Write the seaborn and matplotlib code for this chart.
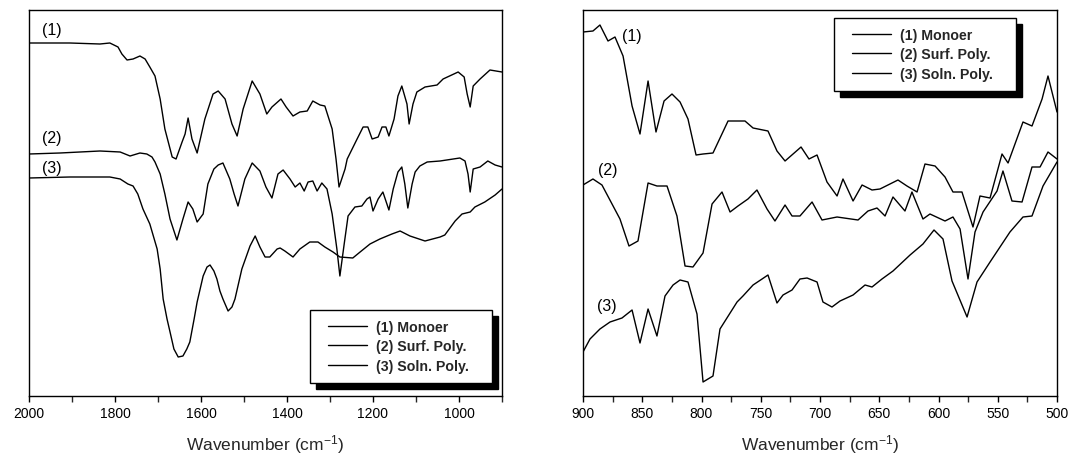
import matplotlib
matplotlib.use("Agg")
import matplotlib.pyplot as plt
from matplotlib.ticker import MultipleLocator
from matplotlib.lines import Line2D
from matplotlib.legend_handler import HandlerLine2D
import pandas as pd
import seaborn as sns

sns.set_style("ticks")
plt.rcParams["font.family"] = ["Liberation Sans", "DejaVu Sans"]
plt.rcParams["mathtext.default"] = "regular"

# ---------------- FTIR spectra, 2000-900 cm-1 (transmittance, a.u.) ----------------
wn_mono_a = [2000, 1905, 1835, 1812, 1793, 1784, 1772, 1758, 1742, 1730, 1719, 1707, 1695, 1684,
             1667, 1658, 1644, 1637, 1630, 1621, 1609, 1591, 1572, 1560, 1544, 1528, 1516, 1502,
             1481, 1463, 1447, 1435, 1414, 1402, 1386, 1370, 1353, 1340, 1323, 1312, 1295, 1286,
             1279, 1265, 1260, 1237, 1223, 1212, 1202, 1188, 1179, 1170, 1163, 1151, 1142, 1133,
             1121, 1116, 1107, 1098, 1079, 1051, 1037, 1002, 988, 981, 974, 967, 951, 928, 900]
t_mono_a = [353, 353, 352, 353, 349, 342, 336, 337, 340, 337, 329, 320, 297, 267,
            239, 237, 254, 262, 278, 257, 243, 277, 302, 305, 297, 272, 260, 287,
            315, 302, 282, 289, 297, 289, 280, 284, 285, 295, 291, 290, 267, 237,
            209, 227, 237, 257, 269, 269, 257, 259, 269, 269, 260, 277, 300, 310,
            292, 272, 292, 304, 309, 311, 317, 324, 319, 302, 289, 310, 317, 326, 324]

wn_surf_a = [2000, 1928, 1835, 1788, 1765, 1742, 1726, 1714, 1707, 1695, 1684, 1672, 1656, 1642,
             1630, 1619, 1609, 1595, 1584, 1570, 1560, 1549, 1533, 1523, 1514, 1498, 1481, 1463,
             1449, 1435, 1421, 1409, 1393, 1381, 1370, 1360, 1351, 1340, 1330, 1319, 1307, 1295,
             1284, 1277, 1267, 1258, 1242, 1226, 1214, 1207, 1200, 1188, 1177, 1163, 1153, 1142,
             1133, 1126, 1119, 1109, 1102, 1091, 1074, 1044, 998, 986, 979, 974, 967, 951, 933,
             916, 900]
t_surf_a = [242, 243, 245, 244, 240, 243, 242, 239, 234, 222, 202, 177, 156, 177,
            194, 187, 174, 182, 212, 227, 231, 233, 217, 202, 190, 217, 233, 225,
            209, 198, 222, 226, 217, 209, 213, 205, 214, 215, 205, 213, 207, 182,
            147, 120, 152, 180, 189, 190, 197, 199, 185, 197, 204, 186, 207, 224,
            229, 212, 188, 212, 224, 230, 234, 235, 238, 235, 222, 204, 227, 229, 235,
            231, 229]

wn_soln_a = [2000, 1905, 1812, 1788, 1770, 1758, 1747, 1735, 1719, 1702, 1695, 1688, 1679, 1672,
             1663, 1653, 1642, 1633, 1626, 1616, 1609, 1595, 1586, 1579, 1570, 1563, 1556, 1549,
             1537, 1528, 1521, 1505, 1486, 1474, 1463, 1451, 1440, 1423, 1416, 1405, 1386, 1370,
             1347, 1328, 1312, 1293, 1277, 1247, 1230, 1207, 1184, 1156, 1137, 1114, 1079, 1044,
             1033, 1009, 993, 974, 963, 940, 916, 900]
t_soln_a = [218, 219, 219, 217, 212, 210, 202, 187, 172, 147, 127, 97, 77, 64,
            47, 39, 40, 47, 54, 77, 94, 120, 129, 131, 125, 117, 105, 97,
            85, 89, 97, 127, 150, 160, 149, 139, 139, 147, 148, 145, 139, 147,
            154, 154, 149, 144, 139, 138, 144, 152, 157, 162, 165, 160, 155, 159,
            161, 175, 182, 184, 189, 194, 201, 207]

# ---------------- FTIR spectra, 900-500 cm-1 (transmittance, a.u.) ----------------
wn_mono_b = [900, 891.6, 885.7, 878.9, 873.0, 866.2, 858.6, 851.9, 845.1, 838.4, 831.6, 824.9,
             818.1, 811.4, 804.6, 798.7, 790.3, 777.6, 763.3, 756.5, 743.9, 736.3, 729.5, 716.0,
             709.3, 702.5, 694.1, 685.6, 680.6, 672.1, 664.5, 656.1, 649.4, 634.2, 626.6, 618.1,
             611.4, 602.9, 594.5, 587.8, 580.2, 570.9, 565.0, 556.5, 546.4, 541.3, 528.7, 521.1,
             512.6, 507.6, 500]
t_mono_b = [364, 365, 371, 355, 359, 340, 290, 262, 315, 264, 295, 302,
            294, 277, 241, 242, 243, 275, 275, 268, 265, 245, 235, 249,
            237, 241, 214, 200, 217, 195, 211, 206, 207, 216, 210, 204,
            232, 230, 219, 204, 204, 169, 200, 198, 242, 233, 274, 270,
            297, 320, 284]

wn_surf_b = [900, 891.6, 884.0, 875.5, 868.8, 861.2, 853.6, 845.1, 837.6, 829.1, 820.7, 813.9,
             807.2, 798.7, 791.1, 782.7, 775.9, 769.2, 760.8, 753.2, 744.7, 738.0, 729.5, 723.6,
             716.9, 706.7, 698.3, 685.6, 667.9, 659.5, 651.9, 645.1, 638.4, 628.3, 622.4, 613.1,
             607.2, 594.5, 587.8, 581.8, 575.1, 569.2, 562.4, 550.6, 545.6, 538.0, 529.5, 521.1,
             514.3, 507.6, 500]
t_surf_b = [211, 217, 211, 192, 177, 150, 155, 213, 210, 210, 180, 130,
            129, 143, 192, 204, 184, 190, 197, 206, 187, 175, 191, 180,
            180, 194, 176, 179, 176, 185, 188, 180, 199, 185, 204, 177,
            182, 175, 179, 167, 117, 164, 184, 205, 225, 195, 194, 229,
            229, 244, 237]

wn_soln_b = [900, 894.1, 885.7, 877.2, 867.1, 858.6, 851.9, 845.1, 837.6, 830.8, 824.0, 818.1,
             811.4, 803.8, 798.7, 790.3, 784.4, 770.0, 765.0, 756.5, 748.9, 743.9, 736.3, 731.2,
             723.6, 716.9, 710.9, 702.5, 697.5, 689.9, 683.1, 672.1, 662.0, 656.1, 647.7, 638.4,
             624.0, 613.1, 603.8, 596.2, 588.6, 575.9, 567.5, 556.5, 539.7, 528.7, 521.1, 511.8,
             500]
t_soln_b = [44, 57, 67, 74, 78, 86, 53, 87, 60, 100, 111, 116,
            114, 82, 14, 20, 67, 94, 100, 111, 117, 121, 93, 101,
            106, 117, 118, 114, 94, 89, 95, 101, 111, 109, 117, 125,
            141, 152, 166, 157, 115, 79, 114, 134, 164, 179, 180, 210,
            234]

series_labels = ["(1) Monoer", "(2) Surf. Poly.", "(3) Soln. Poly."]
curve_tags = ["(1)", "(2)", "(3)"]
# tag anchor points (wavenumber, transmittance) for each panel
tag_pos_a = [(1946, 367), (1946, 259), (1946, 228)]
tag_pos_b = [(858.6, 361), (878.9, 227), (879.7, 90)]

panel_a = [(wn_mono_a, t_mono_a), (wn_surf_a, t_surf_a), (wn_soln_a, t_soln_a)]
panel_b = [(wn_mono_b, t_mono_b), (wn_surf_b, t_surf_b), (wn_soln_b, t_soln_b)]

W, H = 1071, 460
fig = plt.figure(figsize=(W / 100, H / 100), dpi=100)
ax1 = fig.add_axes([29 / W, 63 / H, 473 / W, 386 / H])
ax2 = fig.add_axes([583 / W, 63 / H, 474 / W, 386 / H])

LEG_SIZE = 10.2


def draw_panel(ax, data, tags, xlim, major, minor, leg_box):
    handles = []
    for (wn, t), lab in zip(data, series_labels):
        df = pd.DataFrame({"wn": wn, "t": t})
        sns.lineplot(data=df, x="wn", y="t", ax=ax, color="black", linewidth=1.0,
                     estimator=None, sort=False, legend=False)
        handles.append(ax.lines[-1])
    for (x, y), tag in zip(tags, curve_tags):
        ax.text(x, y, tag, ha="center", va="center", fontsize=11.5, color="black")
    ax.set_xlim(*xlim)
    ax.set_ylim(0, 386)
    ax.set_yticks([])
    ax.set_ylabel("")
    ax.xaxis.set_major_locator(MultipleLocator(major))
    ax.xaxis.set_minor_locator(MultipleLocator(minor))
    ax.tick_params(axis="x", which="major", direction="out", length=4.5, width=1,
                   labelsize=10, pad=2.5, colors="black")
    ax.tick_params(axis="x", which="minor", direction="out", length=4, width=1)
    ax.set_xlabel("Wavenumber (cm$^{-1}$)", fontsize=12.5, labelpad=9)
    for sp in ax.spines.values():
        sp.set_visible(True)
        sp.set_color("black")
        sp.set_linewidth(1.0)
    leg = ax.legend(handles, series_labels, loc="upper left", bbox_to_anchor=leg_box,
                    mode="expand", borderaxespad=0, frameon=True, fancybox=False,
                    framealpha=1, numpoints=2,
                    handler_map={Line2D: HandlerLine2D(marker_pad=0.56)},
                    shadow={"ox": 4.3, "oy": -4.3, "facecolor": "black",
                            "edgecolor": "black", "alpha": 1},
                    prop={"weight": "bold", "size": LEG_SIZE},
                    handlelength=3.9, handletextpad=0.07, borderpad=0.68,
                    labelspacing=0.4)
    leg.get_frame().set_edgecolor("black")
    leg.get_frame().set_linewidth(1.0)


draw_panel(ax1, panel_a, tag_pos_a, (2000, 900), 200, 100,
           (0.594, 0.2228 - 0.15, 0.3848, 0.15))
draw_panel(ax2, panel_b, tag_pos_b, (900, 500), 50, 25,
           (0.5295, 0.979 - 0.15, 0.384, 0.15))

fig.savefig("out.png", dpi=100)
